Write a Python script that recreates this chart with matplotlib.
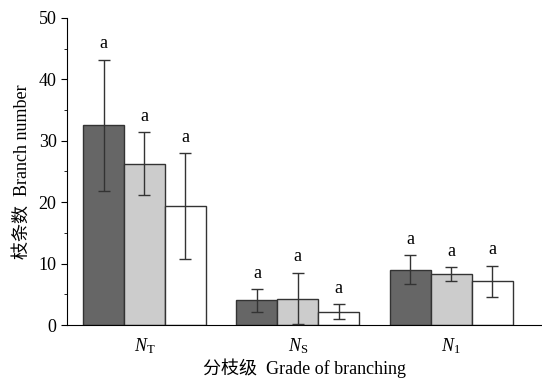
import numpy as np
import matplotlib
matplotlib.use("Agg")
import matplotlib.pyplot as plt

plt.rcParams['font.family'] = ['Liberation Serif', 'Noto Sans CJK SC']
plt.rcParams['mathtext.fontset'] = 'custom'
plt.rcParams['mathtext.rm'] = 'Liberation Serif'
plt.rcParams['mathtext.it'] = 'Liberation Serif:italic'

# data
groups = [r"$N_\mathrm{T}$", r"$N_\mathrm{S}$", r"$N_1$"]
mean_a = [32.5, 4.0, 9.0]
mean_b = [26.3, 4.3, 8.3]
mean_c = [19.4, 2.2, 7.1]
err_a = [10.7, 1.85, 2.4]
err_b = [5.1, 4.2, 1.1]
err_c = [8.6, 1.2, 2.55]
letters = ["a", "a", "a"]

fig = plt.figure(figsize=(5.42, 3.8), dpi=100)
ax = fig.add_axes([0.1236, 0.1447, 0.876, 0.808])

x = np.arange(len(groups))
w = 0.267
series = [(mean_a, err_a, "#666666"), (mean_b, err_b, "#cccccc"), (mean_c, err_c, "white")]
for i, (m, e, c) in enumerate(series):
    pos = x + (i - 1) * w
    ax.bar(pos, m, w, color=c, edgecolor="#333333", linewidth=1.0, zorder=2)
    ax.errorbar(pos, m, yerr=e, fmt="none", ecolor="#333333", elinewidth=1.0,
                capsize=4, capthick=1.0, zorder=3)
    for p, mv, ev in zip(pos, m, e):
        ax.text(p, mv + ev + 1.2, letters[0], ha="center", va="bottom", fontsize=13)

ax.set_xlim(-0.505, 2.59)
ax.set_ylim(0, 50)
ax.set_yticks([0, 10, 20, 30, 40, 50])
ax.set_yticks(np.arange(0, 51, 5), minor=True)
ax.set_xticks(x)
ax.set_xticklabels(groups, fontsize=13)
ax.tick_params(axis="x", length=0, pad=8)
ax.tick_params(axis="y", which="major", length=4, labelsize=13, direction="out")
ax.tick_params(axis="y", which="minor", length=2.5, direction="out")
ax.spines["top"].set_visible(False)
ax.spines["right"].set_visible(False)

ax.set_ylabel("枝条数  Branch number", fontsize=13, labelpad=6)
ax.set_xlabel("分枝级  Grade of branching", fontsize=13, labelpad=2)

fig.savefig("out.png", dpi=100)
